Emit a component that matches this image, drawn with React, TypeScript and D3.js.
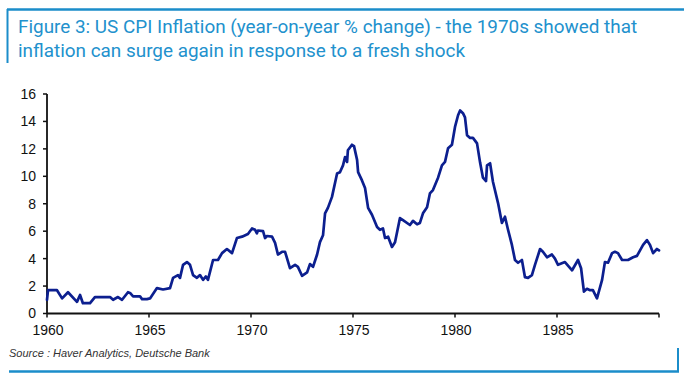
import React from "react";
import * as d3 from "d3";

const titleLines = [
  "Figure 3: US CPI Inflation (year-on-year % change) - the 1970s showed that",
  "inflation can surge again in response to a fresh shock",
];
const sourceText = "Source : Haver Analytics, Deutsche Bank";

const yTicks = [0, 2, 4, 6, 8, 10, 12, 14, 16];
const xTicks = [1960, 1965, 1970, 1975, 1980, 1985, 1990];
const xTickLabels = ["1960", "1965", "1970", "1975", "1980", "1985", ""];

const years = [
  1960.0, 1960.05, 1960.49, 1960.74, 1961.03, 1961.47, 1961.62, 1961.76, 1962.11, 1962.35,
  1963.09, 1963.24, 1963.48, 1963.68, 1963.97, 1964.07, 1964.22, 1964.56, 1964.66, 1964.9,
  1965.05, 1965.39, 1965.69, 1966.03, 1966.18, 1966.42, 1966.52, 1966.67, 1966.86, 1967.01,
  1967.16, 1967.35, 1967.5, 1967.65, 1967.79, 1967.89, 1968.14, 1968.38, 1968.58, 1968.82,
  1969.07, 1969.31, 1969.56, 1969.85, 1970.05, 1970.2, 1970.29, 1970.34, 1970.59, 1970.69,
  1970.78, 1971.03, 1971.18, 1971.32, 1971.52, 1971.67, 1971.91, 1972.16, 1972.3, 1972.5,
  1972.75, 1972.89, 1973.04, 1973.24, 1973.38, 1973.53, 1973.63, 1973.77, 1973.97, 1974.22,
  1974.36, 1974.51, 1974.61, 1974.71, 1974.75, 1974.95, 1975.05, 1975.2, 1975.25, 1975.44,
  1975.59, 1975.74, 1975.93, 1976.18, 1976.32, 1976.47, 1976.57, 1976.72, 1976.91, 1977.06,
  1977.3, 1977.45, 1977.79, 1977.94, 1978.14, 1978.28, 1978.43, 1978.63, 1978.77, 1978.92,
  1979.17, 1979.36, 1979.51, 1979.66, 1979.85, 1980.0, 1980.15, 1980.25, 1980.39, 1980.49,
  1980.59, 1980.74, 1980.88, 1981.08, 1981.23, 1981.37, 1981.52, 1981.57, 1981.72, 1981.86,
  1982.11, 1982.3, 1982.45, 1982.6, 1982.79, 1982.94, 1983.09, 1983.28, 1983.43, 1983.58,
  1983.77, 1983.92, 1984.17, 1984.31, 1984.51, 1984.75, 1984.9, 1985.05, 1985.39, 1985.74,
  1986.03, 1986.18, 1986.32, 1986.47, 1986.62, 1986.76, 1986.96, 1987.21, 1987.35, 1987.5,
  1987.7, 1987.84, 1987.99, 1988.19, 1988.48, 1988.73, 1988.92, 1989.07, 1989.22, 1989.41,
  1989.56, 1989.71, 1989.9, 1990.0,
];

const cpi = [
  1.0, 1.7, 1.7, 1.1, 1.55, 0.85, 1.35, 0.75, 0.75, 1.2,
  1.2, 1.0, 1.2, 1.0, 1.55, 1.5, 1.25, 1.25, 1.05, 1.05,
  1.1, 1.85, 1.75, 1.85, 2.6, 2.8, 2.6, 3.55, 3.75, 3.55,
  2.8, 2.6, 2.8, 2.45, 2.7, 2.45, 3.9, 3.9, 4.4, 4.7,
  4.4, 5.5, 5.6, 5.8, 6.2, 6.1, 5.85, 6.05, 6.0, 5.5,
  5.65, 5.6, 5.15, 4.3, 4.5, 4.5, 3.3, 3.55, 3.4, 2.75,
  3.0, 3.6, 3.4, 4.3, 5.2, 5.7, 7.3, 7.7, 8.5, 10.2,
  10.3, 10.8, 11.4, 11.05, 11.9, 12.3, 12.2, 11.2, 10.3, 9.7,
  9.15, 7.7, 7.2, 6.3, 6.1, 6.2, 5.5, 5.6, 4.85, 5.2,
  6.95, 6.8, 6.45, 6.75, 6.5, 6.6, 7.3, 7.75, 8.75, 9.0,
  9.9, 10.8, 11.05, 12.05, 12.3, 13.6, 14.45, 14.8, 14.6, 14.3,
  13.0, 12.8, 12.8, 12.4, 11.0, 9.9, 9.65, 10.8, 10.95, 9.6,
  8.05, 6.6, 7.05, 6.1, 5.0, 3.9, 3.7, 3.9, 2.65, 2.6,
  2.8, 3.55, 4.7, 4.5, 4.1, 4.3, 4.0, 3.55, 3.75, 3.15,
  3.9, 3.3, 1.6, 1.8, 1.7, 1.7, 1.1, 2.45, 3.75, 3.7,
  4.4, 4.5, 4.4, 3.9, 3.9, 4.1, 4.2, 4.6, 5.0, 5.35,
  5.0, 4.4, 4.7, 4.6,
];

const W = 684;
const H = 379;
const frameBlue = "#1b8dca";
const lineBlue = "#0c1f8f";

export default function App() {
  const x = d3.scaleLinear().domain([1960, 1990]).range([47, 659]);
  const y = d3.scaleLinear().domain([0, 16]).range([313.5, 94]);
  const points = years.map((yr, i) => [yr, cpi[i]] as [number, number]);
  const line = d3
    .line<[number, number]>()
    .x((d) => x(d[0]))
    .y((d) => y(d[1]))
    .curve(d3.curveLinear);

  return (
    <svg
      width={W}
      height={H}
      style={{ position: "absolute", left: 0, top: 0, background: "#fff" }}
      fontFamily="'Liberation Sans', Arial, sans-serif"
    >
      <rect width={W} height={H} fill="#fff" />
      {/* frame */}
      <line x1={7} x2={W} y1={9.5} y2={9.5} stroke={frameBlue} strokeWidth={2.5} />
      <line x1={7.5} x2={7.5} y1={9} y2={63} stroke={frameBlue} strokeWidth={2} />
      <line x1={9} x2={679} y1={371.5} y2={371.5} stroke={frameBlue} strokeWidth={2.5} />
      <line x1={678} x2={678} y1={348} y2={372} stroke={frameBlue} strokeWidth={2} />

      {/* title */}
      {titleLines.map((t, i) => (
        <text
          key={i}
          x={18}
          y={33 + i * 24}
          fill="#2291cd"
          fontSize={18.9}
          fontFamily="Roboto, 'Liberation Sans', sans-serif"
        >
          {t}
        </text>
      ))}

      {/* y axis */}
      <line x1={x(1960)} x2={x(1960)} y1={y(16)} y2={y(0)} stroke="#111" strokeWidth={1.8} />
      {yTicks.map((t) => (
        <g key={t}>
          <line x1={x(1960) - 4} x2={x(1960)} y1={y(t)} y2={y(t)} stroke="#111" strokeWidth={1.5} />
          <text x={36} y={y(t)} dy="0.35em" textAnchor="end" fontSize={14} fill="#111">
            {t}
          </text>
        </g>
      ))}

      {/* x axis */}
      <line x1={x(1960)} x2={x(1990)} y1={y(0)} y2={y(0)} stroke="#111" strokeWidth={2} />
      {xTicks.map((t, i) => (
        <g key={t}>
          <line x1={x(t)} x2={x(t)} y1={y(0)} y2={y(0) + 4} stroke="#111" strokeWidth={1.5} />
          <text x={x(t) + 1} y={335} textAnchor="middle" fontSize={14} fill="#111">
            {xTickLabels[i]}
          </text>
        </g>
      ))}

      {/* series */}
      <path
        d={line(points) || ""}
        fill="none"
        stroke={lineBlue}
        strokeWidth={2.7}
        strokeLinejoin="round"
        strokeLinecap="round"
      />

      {/* source */}
      <text x={9} y={357} fontSize={11} fontStyle="italic" fill="#333">
        {sourceText}
      </text>
    </svg>
  );
}
